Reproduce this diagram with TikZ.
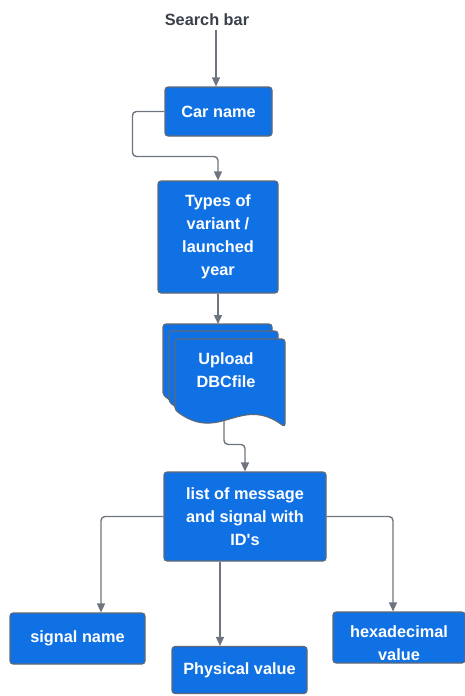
\documentclass[tikz,border=0pt]{standalone}
\usepackage{fontspec}
\setmainfont{Liberation Sans}
\usetikzlibrary{arrows.meta}
\definecolor{lucidblue}{HTML}{1071E5}
\definecolor{edgegray}{HTML}{5F6875}
\definecolor{wiregray}{HTML}{6E7580}
\definecolor{titlegray}{HTML}{3A4049}
\tikzset{
  flow/.style={x=1pt, y=-1pt, font=\fontsize{16.3}{23}\selectfont\bfseries},
  fbox/.style={rectangle, rounded corners=3pt, draw=edgegray, line width=1.1pt,
    fill=lucidblue, text=white, align=center, inner sep=0pt},
  sheet/.style={draw=edgegray, line width=1.1pt, fill=lucidblue, rounded corners=3pt},
  ftext/.style={text=white, align=center, inner sep=0pt},
  wire/.style={draw=wiregray, line width=1.4pt, rounded corners=4pt,
    -{Triangle[length=9pt,width=8pt]}},
}

\begin{document}
\begin{tikzpicture}[flow]
  \useasboundingbox (0,0) rectangle (464,696);
  % top of the chain
  \node[text=titlegray] (search) at (207,20) {Search bar};
  \node[fbox, minimum width=107pt, minimum height=49pt] (carname) at (218.5,111.5) {Car name};
  \node[fbox, minimum width=120pt, minimum height=112pt] (types) at (218,237)
    {Types of\\variant /\\launched\\year};
  % Upload DBCfile, three stacked sheets
  \begin{scope}[shift={(163,324)}]
    \draw[sheet] (0,71) -- (0,0) -- (109,0) -- (109,88)
      .. controls (65,55) and (45,105) .. (0,71) -- cycle;
  \end{scope}
  \begin{scope}[shift={(169,331)}]
    \draw[sheet] (0,71) -- (0,0) -- (109,0) -- (109,88)
      .. controls (65,55) and (45,105) .. (0,71) -- cycle;
  \end{scope}
  \begin{scope}[shift={(175,339)}]
    \draw[sheet] (0,71) -- (0,0) -- (110,0) -- (110,88)
      .. controls (65,55) and (45,105) .. (0,71) -- cycle;
  \end{scope}
  \coordinate (dbctop) at (218,324);
  \coordinate (dbcout) at (224,421);
  \node[ftext] (dbc) at (226,370) {Upload\\DBCfile};
  % message list and its three outputs
  \node[fbox, minimum width=162pt, minimum height=89pt] (msglist) at (245,516.5)
    {list of message\\and signal with\\ID\textquotesingle s};
  \node[fbox, minimum width=135pt, minimum height=51pt] (signame) at (77.5,638.5) {signal name};
  \node[fbox, minimum width=135pt, minimum height=47pt] (physval) at (239.5,670) {Physical value};
  \node[fbox, minimum width=132pt, minimum height=51pt] (hexval) at (399,637.5)
    {\rule{0pt}{24pt}hexadecimal\\value};
  % connectors
  \draw[wire] ([xshift=-2.5pt]carname.north |- search.south) -- ([xshift=-2.5pt]carname.north);
  \draw[wire] (carname.west) -- ++(-32,0) |- ([yshift=24pt]types.north) -- (types.north);
  \draw[wire] (types.south) -- (dbctop);
  \draw[wire] (dbcout) |- ([yshift=27pt]msglist.north) -- (msglist.north);
  \draw[wire] (msglist.west) -| ([xshift=23.5pt]signame.north);
  \draw[wire] ([xshift=-25pt]msglist.south) -- ([xshift=-19.5pt]physval.north);
  \draw[wire] (msglist.east) -| ([xshift=-6pt]hexval.north);
\end{tikzpicture}
\end{document}
